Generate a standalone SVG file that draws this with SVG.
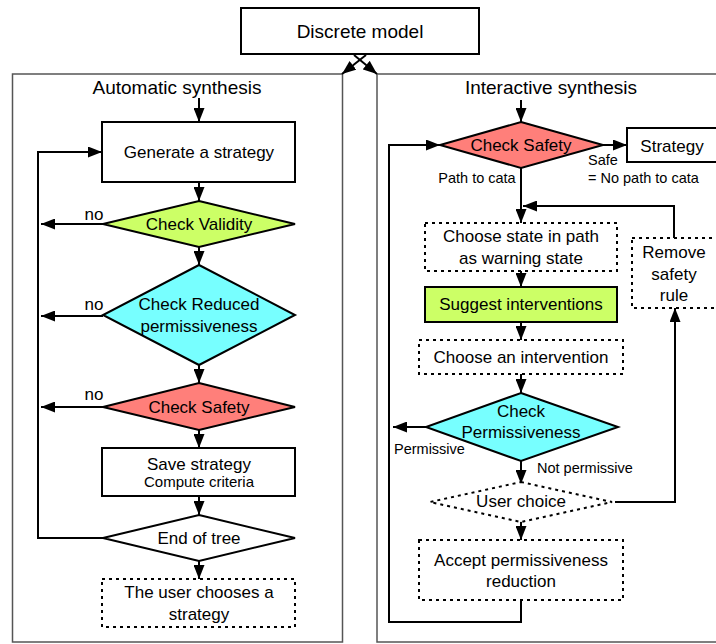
<svg xmlns="http://www.w3.org/2000/svg" width="716" height="644" viewBox="0 0 716 644">
<style>
text{font-family:"Liberation Sans",Arial,sans-serif;fill:#000;text-anchor:middle;dominant-baseline:central}
.n{stroke:#000;stroke-width:2;fill:#fff}
.d{stroke:#000;stroke-width:2;fill:#fff;stroke-dasharray:3 4}
.panel{fill:#fff;stroke:#555;stroke-width:1.5}
.c{fill:none;stroke:#000;stroke-width:2}
.a{marker-end:url(#ah)}
.t16{font-size:17px}
.t14{font-size:14.5px}
.t18{font-size:19px}
</style>
<defs>
<marker id="ah" viewBox="0 0 14 11" refX="14" refY="5.5" markerWidth="14" markerHeight="11" markerUnits="userSpaceOnUse" orient="auto"><path d="M0,0 L14,5.5 L0,11 z" fill="#000"/></marker>
</defs>
<rect width="716" height="644" fill="#fff"/>
<g id="panel-auto"><rect class="panel" x="12.5" y="74" width="330" height="568"/><text class="t18" x="177" y="87">Automatic synthesis</text></g>
<g id="panel-inter"><rect class="panel" x="377" y="74" width="345" height="568"/><text class="t18" x="551" y="87">Interactive synthesis</text></g>
<g id="discrete"><rect class="n" x="241" y="8" width="238" height="46"/><text class="t18" x="360" y="31">Discrete model</text></g>

<g id="connectors">
<line class="c a" x1="366" y1="55" x2="342" y2="74"/>
<line class="c a" x1="354" y1="55" x2="377" y2="74"/>
<line class="c a" x1="199" y1="98" x2="199" y2="122"/>
<line class="c a" x1="199" y1="182" x2="199" y2="201"/>
<line class="c a" x1="103" y1="224" x2="41" y2="224"/>
<line class="c a" x1="199" y1="247" x2="199" y2="265"/>
<line class="c a" x1="103" y1="316" x2="41" y2="316"/>
<line class="c a" x1="199" y1="365" x2="199" y2="383"/>
<line class="c a" x1="103" y1="407" x2="41" y2="407"/>
<line class="c a" x1="199" y1="430" x2="199" y2="448"/>
<line class="c a" x1="199" y1="496" x2="199" y2="515"/>
<polyline class="c a" points="103,538 38,538 38,152 102,152"/>
<line class="c a" x1="199" y1="561" x2="199" y2="579"/>
<text class="t16" x="94" y="214">no</text>
<text class="t16" x="94" y="304">no</text>
<text class="t16" x="94" y="394">no</text>
<line class="c a" x1="521" y1="100" x2="521" y2="122"/>
<line class="c a" x1="603" y1="145" x2="627" y2="145"/>
<line class="c a" x1="521" y1="168" x2="521" y2="223"/>
<polyline class="c a" points="674,238 674,206 523,206"/>
<line class="c a" x1="521" y1="271" x2="521" y2="287"/>
<line class="c a" x1="521" y1="322" x2="521" y2="340"/>
<line class="c a" x1="521" y1="374" x2="521" y2="393"/>
<line class="c a" x1="426" y1="427" x2="393" y2="427"/>
<line class="c a" x1="521" y1="461" x2="521" y2="484"/>
<polyline class="c a" points="615,502 675,502 675,308"/>
<line class="c a" x1="521" y1="520" x2="521" y2="540"/>
<polyline class="c a" points="521,600 521,622 389,622 389,145 440,145"/>
<text class="t14" x="477" y="178">Path to cata</text>
<text class="t14" x="588" y="160" style="text-anchor:start">Safe</text>
<text class="t14" x="588" y="178" style="text-anchor:start">= No path to cata</text>
<text class="t14" x="394" y="449" style="text-anchor:start">Permissive</text>
<text class="t14" x="537" y="468" style="text-anchor:start">Not permissive</text>
</g>

<g id="generate"><rect class="n" x="102" y="122" width="193" height="60"/><text class="t16" x="199" y="152">Generate a strategy</text></g>
<g id="validity"><polygon class="n" points="199,201 295,224 199,247 103,224" style="fill:#ccff66"/><text class="t16" x="199" y="224">Check Validity</text></g>
<g id="reduced"><polygon class="n" points="199,265 295,315 199,365 103,315" style="fill:#77ffff"/><text class="t16" x="199" y="304">Check Reduced</text><text class="t16" x="199" y="326">permissiveness</text></g>
<g id="safety-auto"><polygon class="n" points="199,383 295,407 199,430 103,407" style="fill:#ff7f7a"/><text class="t16" x="199" y="407">Check Safety</text></g>
<g id="save"><rect class="n" x="102" y="448" width="193" height="48"/><text class="t16" x="199" y="464">Save strategy</text><text style="font-size:15px" x="199" y="481">Compute criteria</text></g>
<g id="endtree"><polygon class="n" points="199,515 295,538 199,561 103,538"/><text class="t16" x="199" y="538">End of tree</text></g>
<g id="userchooses"><rect class="d" x="102" y="579" width="193" height="48"/><text class="t16" x="199" y="592">The user chooses a</text><text class="t16" x="199" y="614">strategy</text></g>

<g id="safety-inter"><polygon class="n" points="521,122 603,145 521,168 440,145" style="fill:#ff7f7a"/><text class="t16" x="521" y="145">Check Safety</text></g>
<g id="strategy"><rect class="n" x="627" y="128" width="90" height="34"/><text class="t16" x="672" y="146">Strategy</text></g>
<g id="choosestate"><rect class="d" x="425" y="223" width="192" height="48"/><text class="t16" x="521" y="236">Choose state in path</text><text class="t16" x="521" y="258">as warning state</text></g>
<g id="removerule"><rect class="d" x="632" y="238" width="90" height="70"/><text class="t16" x="674" y="252">Remove</text><text class="t16" x="674" y="274">safety</text><text class="t16" x="674" y="295">rule</text></g>
<g id="suggest"><rect class="n" x="425" y="287" width="192" height="35" style="fill:#ccff66"/><text class="t16" x="521" y="304">Suggest interventions</text></g>
<g id="chooseint"><rect class="d" x="419" y="340" width="204" height="34"/><text class="t16" x="521" y="357">Choose an intervention</text></g>
<g id="checkperm"><polygon class="n" points="521,393 618,427 521,461 426,427" style="fill:#77ffff"/><text class="t16" x="521" y="411">Check</text><text class="t16" x="521" y="432">Permissiveness</text></g>
<g id="userchoice"><polygon class="d" points="521,482 612,502 521,522 430,502"/><text class="t16" x="521" y="501">User choice</text></g>
<g id="accept"><rect class="d" x="419" y="540" width="204" height="60"/><text class="t16" x="521" y="560">Accept permissiveness</text><text class="t16" x="521" y="581">reduction</text></g>
</svg>
